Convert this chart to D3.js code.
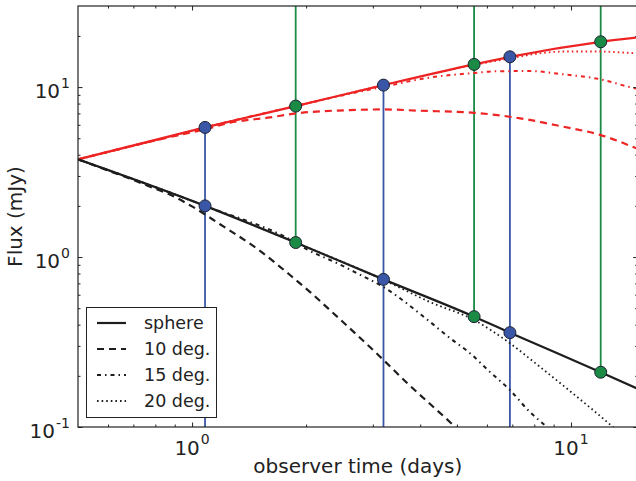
<!DOCTYPE html>
<html><head><meta charset="utf-8">
<script src="https://cdn.jsdelivr.net/npm/d3@7"></script>
<style>
body{margin:0;background:#fff;}
svg{display:block;font-family:"DejaVu Sans",sans-serif;}
</style></head><body>
<svg id="chart" width="636" height="481"></svg>
<script>
// ---- data ----
const xDomain = [0.5, 15];
const yDomain = [0.1, 30];
const xMajorTicks = [1, 10];
const xMinorTicks = [0.6, 0.7, 0.8, 0.9, 2, 3, 4, 5, 6, 7, 8, 9];
const yMajorTicks = [0.1, 1, 10];
const yMinorTicks = [0.2, 0.3, 0.4, 0.5, 0.6, 0.7, 0.8, 0.9, 2, 3, 4, 5, 6, 7, 8, 9, 20];
const xTickExp = ["0", "1"];
const yTickExp = ["-1", "0", "1"];

const sphereT = [0.5, 1.082, 1.877, 3.2, 5.55, 6.9, 11.98, 15];
const redSphere = [3.755, 5.79, 7.73, 10.27, 13.6, 15.07, 18.47, 19.6];
const blackSphere = [3.755, 2.0, 1.217, 0.739, 0.446, 0.359, 0.21, 0.168];

const red10T = [0.5, 0.8, 1.082, 1.26, 1.606, 1.877, 2.61, 3.2, 4.0, 5.55, 7.35, 9.36, 11.98, 15];
const red10F = [3.755, 4.86, 5.65, 6.17, 6.63, 7.0, 7.32, 7.39, 7.26, 7.06, 6.55, 5.9, 5.22, 4.33];
const red15T = [0.5, 0.8, 1.082, 1.877, 2.5, 3.2, 4.32, 5.55, 6.4, 7.8, 9.52, 11.98, 14.3, 15];
const red15F = [3.755, 4.86, 5.79, 7.73, 8.95, 10.05, 11.45, 12.1, 12.4, 12.42, 11.9, 11.1, 10.0, 9.75];
const red20T = [0.5, 0.8, 1.082, 1.877, 3.2, 5.55, 6.9, 8.48, 9.52, 11.98, 13.5, 15];
const red20F = [3.755, 4.86, 5.79, 7.73, 10.27, 13.5, 14.75, 15.9, 16.2, 16.2, 16.0, 15.8];

const black10T = [0.5, 0.6, 0.7, 0.8, 0.864, 0.994, 1.185, 1.484, 1.813, 2.05, 2.31, 3.13, 3.67, 4.79, 5.2];
const black10F = [3.755, 3.23, 2.84, 2.52, 2.36, 2.0, 1.56, 1.12, 0.784, 0.622, 0.488, 0.26, 0.184, 0.107, 0.09];
const black15T = [0.5, 1.082, 1.877, 2.01, 2.41, 2.72, 3.2, 4.25, 4.79, 5.41, 6.11, 6.9, 7.79, 8.64, 9.2];
const black15F = [3.755, 2.0, 1.217, 1.11, 0.922, 0.805, 0.666, 0.415, 0.334, 0.272, 0.211, 0.165, 0.1225, 0.1, 0.088];
const black20T = [0.5, 1.082, 1.877, 3.2, 4.25, 5.55, 6.9, 8.28, 10.1, 12.9, 13.6];
const black20F = [3.755, 2.0, 1.217, 0.735, 0.543, 0.426, 0.311, 0.226, 0.158, 0.1, 0.09];

const blueT = [1.082, 3.2, 6.9];
const blueRed = [5.79, 10.27, 15.07];
const blueBlack = [2.0, 0.739, 0.359];
const greenT = [1.877, 5.55, 11.98];
const greenRed = [7.73, 13.6, 18.47];
const greenBlack = [1.217, 0.446, 0.21];

const legendLabels = ["sphere", "10 deg.", "15 deg.", "20 deg."];

// ---- styles ----
const RED = "#ee2424", BLACK = "#1e1e1e", AX = "#222";
const BLUE = "#3a56a6", GREEN = "#1b8a45";
const styles = {
  solid: {dash: null, w: 2.2},
  d10: {dash: "7,5", w: 2.2},
  d15: {dash: "4,4,1.5,4", w: 2},
  d20: {dash: "1.6,3", w: 1.8}
};

const svg = d3.select("#chart");
svg.append("rect").attr("width", 636).attr("height", 481).attr("fill", "#fff");

const L = 78, T = 6, R = 637.7, B = 427;
const x = d3.scaleLog().domain(xDomain).range([L, R]);
const y = d3.scaleLog().domain(yDomain).range([B, T]);

svg.append("defs").append("clipPath").attr("id", "clip")
  .append("rect").attr("x", L).attr("y", T).attr("width", R - L).attr("height", B - T);

const plot = svg.append("g").attr("clip-path", "url(#clip)");

// vertical lines
blueT.forEach((t, i) => {
  plot.append("line").attr("x1", x(t)).attr("x2", x(t))
    .attr("y1", y(blueRed[i])).attr("y2", y(yDomain[0]))
    .attr("stroke", BLUE).attr("stroke-width", 1.8);
});
greenT.forEach((t, i) => {
  plot.append("line").attr("x1", x(t)).attr("x2", x(t))
    .attr("y1", y(yDomain[1])).attr("y2", y(greenBlack[i]))
    .attr("stroke", GREEN).attr("stroke-width", 1.8);
});

const line = d3.line().x(d => x(d[0])).y(d => y(d[1])).curve(d3.curveMonotoneX);
const zip = (a, b) => a.map((v, i) => [v, b[i]]);

const curves = [
  [red10T, red10F, RED, "d10"], [red15T, red15F, RED, "d15"], [red20T, red20F, RED, "d20"],
  [black10T, black10F, BLACK, "d10"], [black15T, black15F, BLACK, "d15"], [black20T, black20F, BLACK, "d20"],
  [sphereT, redSphere, RED, "solid"], [sphereT, blackSphere, BLACK, "solid"]
];
curves.forEach(([tt, ff, col, st]) => {
  const s = styles[st];
  plot.append("path").attr("d", line(zip(tt, ff)))
    .attr("fill", "none").attr("stroke", col).attr("stroke-width", s.w)
    .attr("stroke-dasharray", s.dash);
});

// dots
const dot = (t, f, col) => svg.append("circle").attr("cx", x(t)).attr("cy", y(f)).attr("r", 6)
  .attr("fill", col).attr("stroke", "#1c2233").attr("stroke-width", 1);
blueT.forEach((t, i) => { dot(t, blueRed[i], BLUE); dot(t, blueBlack[i], BLUE); });
greenT.forEach((t, i) => { dot(t, greenRed[i], GREEN); dot(t, greenBlack[i], GREEN); });

// axes ticks (inward)
function ticks(axisFn, scale, vals, size, transform) {
  const g = svg.append("g").attr("transform", transform)
    .call(axisFn(scale).tickValues(vals).tickSize(-size).tickFormat(() => ""));
  g.select(".domain").remove();
  g.selectAll("line").attr("stroke", AX).attr("stroke-width", 1);
}
ticks(d3.axisBottom, x, xMajorTicks, 4.5, `translate(0,${B})`);
ticks(d3.axisBottom, x, xMinorTicks, 2.5, `translate(0,${B})`);
ticks(d3.axisTop, x, xMajorTicks, 4.5, `translate(0,${T})`);
ticks(d3.axisTop, x, xMinorTicks, 2.5, `translate(0,${T})`);
ticks(d3.axisLeft, y, yMajorTicks, 4.5, `translate(${L},0)`);
ticks(d3.axisLeft, y, yMinorTicks, 2.5, `translate(${L},0)`);
ticks(d3.axisRight, y, yMajorTicks, 4.5, `translate(${R},0)`);
ticks(d3.axisRight, y, yMinorTicks, 2.5, `translate(${R},0)`);

// spines
svg.append("rect").attr("x", L).attr("y", T).attr("width", R - L).attr("height", B - T)
  .attr("fill", "none").attr("stroke", AX).attr("stroke-width", 1.2);

// tick labels
xMajorTicks.forEach((v, i) => {
  const t = svg.append("text").attr("x", x(v)).attr("y", 455).attr("text-anchor", "middle")
    .attr("font-size", 20).attr("fill", "#222");
  t.append("tspan").text("10");
  t.append("tspan").attr("font-size", 14).attr("dy", -11).attr("dx", 1).text(xTickExp[i]);
});
yMajorTicks.forEach((v, i) => {
  const t = svg.append("text").attr("x", 70).attr("y", y(v) + 11).attr("text-anchor", "end")
    .attr("font-size", 20).attr("fill", "#222");
  t.append("tspan").text("10");
  t.append("tspan").attr("font-size", 14).attr("dy", -10).attr("dx", 1).text(yTickExp[i]);
});

// axis labels
svg.append("text").attr("x", (L + R) / 2).attr("y", 473).attr("text-anchor", "middle")
  .attr("font-size", 20).attr("fill", "#222").text("observer time (days)");
svg.append("text").attr("transform", `translate(21.5,${(T + B) / 2}) rotate(-90)`)
  .attr("text-anchor", "middle").attr("font-size", 20).attr("fill", "#222").text("Flux (mJy)");

// legend
const lg = svg.append("g");
lg.append("rect").attr("x", 86.5).attr("y", 307.5).attr("width", 130).attr("height", 110)
  .attr("fill", "#fff").attr("stroke", AX).attr("stroke-width", 1);
const legStyles = ["solid", "d10", "d15", "d20"];
legendLabels.forEach((lab, i) => {
  const cy = 323 + i * 26;
  const s = styles[legStyles[i]];
  lg.append("line").attr("x1", 97).attr("x2", 126).attr("y1", cy).attr("y2", cy)
    .attr("stroke", BLACK).attr("stroke-width", s.w).attr("stroke-dasharray", s.dash);
  lg.append("text").attr("x", 144).attr("y", cy + 6).attr("font-size", 17.5)
    .attr("fill", "#222").text(lab);
});
</script>
</body></html>
